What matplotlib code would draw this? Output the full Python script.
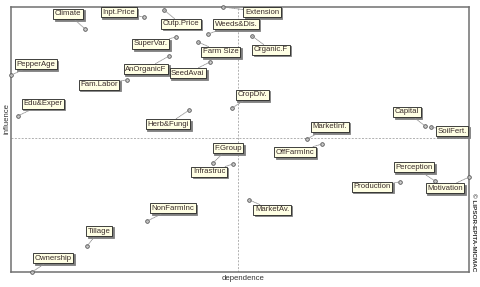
import matplotlib
matplotlib.use('Agg')
import matplotlib.pyplot as plt

# variables of the MICMAC direct influence/dependence map
names = ['Climate', 'Inpt.Price', 'Outp.Price', 'Weeds&Dis.', 'Extension',
         'Organic.F', 'SuperVar.', 'Farm Size', 'PepperAge', 'AnOrganicF',
         'SeedAvai', 'Fam.Labor', 'Edu&Exper', 'Herb&Fungi', 'CropDiv.',
         'MarketInf.', 'OffFarmInc', 'F.Group', 'Infrastruc', 'NonFarmInc',
         'Tillage', 'Ownership', 'MarketAv.', 'Capital', 'SoilFert.',
         'Perception', 'Production', 'Motivation']
dependence = [16.2, 29.0, 33.4, 43.0, 46.3, 52.6, 36.0, 40.8, 0.0, 34.5,
              43.4, 25.3, 1.5, 38.9, 48.3, 64.6, 67.9, 44.1, 48.5, 29.7,
              16.6, 4.6, 52.0, 90.4, 91.7, 92.6, 84.9, 100.0]
influence = [91.7, 96.2, 98.9, 89.8, 100.0, 89.1, 88.7, 86.8, 74.3, 81.5,
             79.2, 72.5, 58.9, 61.1, 61.9, 50.2, 48.3, 41.1, 40.8, 19.2,
             9.8, 0.0, 27.2, 55.1, 54.7, 34.3, 34.0, 35.8]
dep_mean = 49.6
inf_mean = 50.6

# label offsets from their point, in pixels
offsets = [(-17, 15), (-25, 5), (17, -14), (28, 10), (39, -5),
           (19, -14), (-25, -7), (23, -10), (25, 11), (-23, -13),
           (-22, -11), (-28, -5), (25, 12), (-21, -14), (20, 13),
           (23, 12), (-27, -8), (15, 15), (-24, -8), (26, 13),
           (12, 15), (21, 14), (23, -10), (-18, 14), (21, -4),
           (-21, 14), (-28, -5), (-24, -11)]

fig = plt.figure(figsize=(4.8, 2.87), dpi=100)
ax = fig.add_axes([11 / 480, 1 - 272 / 287, 458 / 480, 265 / 287])
ax.set_xlim(0, 100)
ax.set_ylim(0, 100)
ax.set_xticks([])
ax.set_yticks([])
for s in ax.spines.values():
    s.set_color('#707070')
    s.set_linewidth(1.1)

ax.axvline(dep_mean, color='#b0b0b0', lw=0.7, ls=(0, (2, 1.5)), zorder=1)
ax.axhline(inf_mean, color='#b0b0b0', lw=0.7, ls=(0, (2, 1.5)), zorder=1)

ax.plot(dependence, influence, 'o', ms=2.6, mfc='#d0d0d0', mec='#505050',
        mew=0.6, ls='none', clip_on=False, zorder=4)

for n, x, y, (dx, dy) in zip(names, dependence, influence, offsets):
    # shadow
    ax.annotate(n, (x, y), xytext=(dx + 1.5, dy - 1.5), textcoords='offset pixels',
                ha='center', va='center', fontsize=5.6, family='Liberation Sans',
                color='#808080', annotation_clip=False, zorder=5,
                bbox=dict(boxstyle='square,pad=0.2', fc='#808080', ec='#808080', lw=0.6))
    ax.annotate(n, (x, y), xytext=(dx, dy), textcoords='offset pixels',
                ha='center', va='center', fontsize=5.6, family='Liberation Sans',
                color='#3a2c2c', annotation_clip=False, zorder=6,
                bbox=dict(boxstyle='square,pad=0.2', fc='#ffffe4', ec='#202020', lw=0.6),
                arrowprops=dict(arrowstyle='-', color='#909090', lw=0.6, ls=(0, (1, 1)),
                                shrinkA=0, shrinkB=0))

fig.text(7 / 480, 1 - 118 / 287, 'influence', rotation=90, ha='center', va='center',
         fontsize=5.6, family='Liberation Sans', color='#333333')
fig.text(243 / 480, 1 - 278 / 287, 'dependence', ha='center', va='center',
         fontsize=5.6, family='Liberation Sans', color='#333333')
fig.text(474 / 480, 1 - 232 / 287, '\u00a9 LIPSOR-EPITA-MICMAC', rotation=-90,
         ha='center', va='center', fontsize=4.6, family='Liberation Sans',
         weight='bold', color='#333333')

fig.savefig('out.png', dpi=100)
